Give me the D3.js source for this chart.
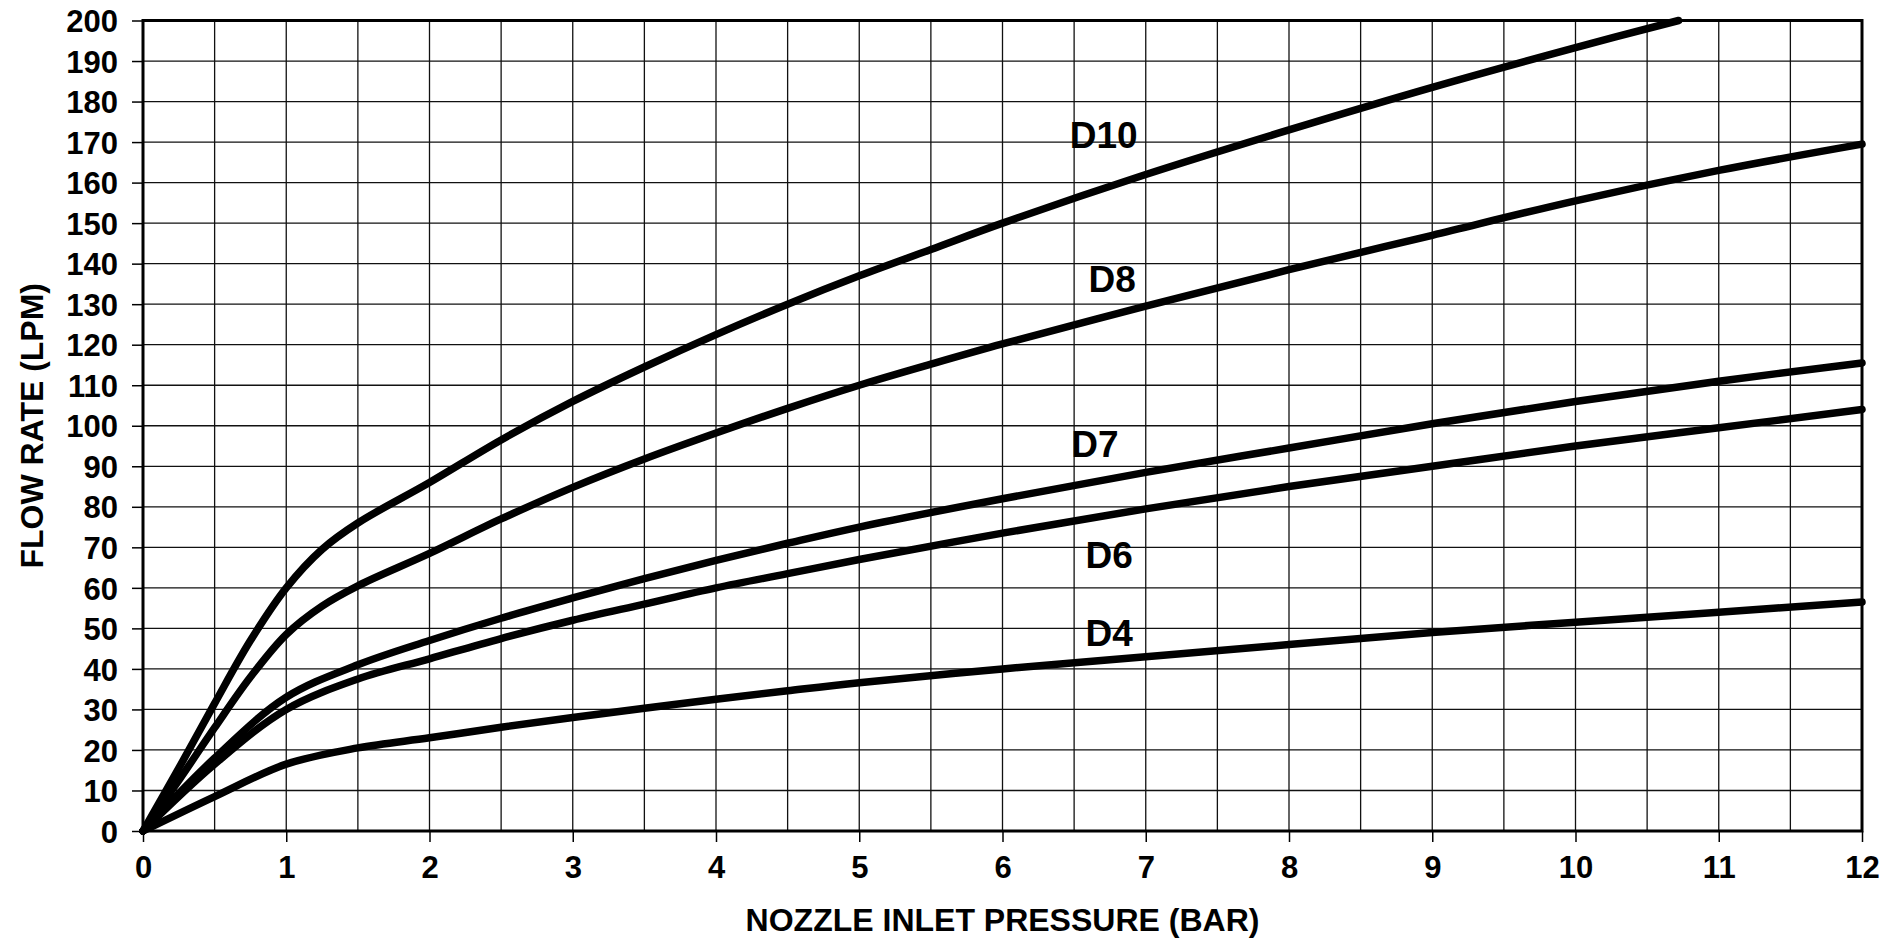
<!DOCTYPE html>
<meta charset="utf-8">
<script src="https://d3js.org/d3.v7.min.js"></script>
<html>
<head>
<style>
body { margin: 0; background: #fff; }
text { font-family: "Liberation Sans", Arial, sans-serif; font-weight: bold; fill: #000; }
</style>
</head>
<body>
<svg id="chart" width="1904" height="948"></svg>
<script>

// nozzle inlet pressure (bar) vs flow rate (lpm)
var d10 = [[0,0],[0.25,15.5],[0.5,31.5],[0.75,47],[1,60],[1.25,69.5],[1.5,76],[2,86],[2.5,96.5],[3,106],
           [3.5,114.5],[4,122.5],[4.5,130],[5,137],[5.5,143.5],[6,150],[7,162],[8,173],[9,183.5],[10,193.3],[10.72,200]];
var d8  = [[0,0],[0.25,12.5],[0.5,25.5],[0.75,38],[1,48.5],[1.25,55.5],[1.5,60.5],[2,68.5],[2.5,77],[3,84.8],
           [3.5,91.8],[4,98.2],[4.5,104.3],[5,110],[5.5,115.2],[6,120.2],[7,129.5],[8,138.5],[9,147],[10,155.5],[11,163],[12,169.5]];
var d7  = [[0,0],[0.5,18],[1,33],[1.5,41],[2,47],[2.5,52.5],[3,57.5],[3.5,62.3],[4,66.8],[4.5,71],[5,75],[6,82],
           [7,88.5],[8,94.5],[9,100.5],[10,106],[11,111],[12,115.5]];
var d6  = [[0,0],[0.5,16.5],[1,30],[1.5,37.5],[2,42.5],[2.5,47.5],[3,52],[3.5,56],[4,60],[4.5,63.5],[5,67],[6,73.5],
           [7,79.5],[8,85],[9,90],[10,95],[11,99.5],[12,104]];
var d4  = [[0,0],[0.5,8.5],[1,16.5],[1.5,20.5],[2,23],[2.5,25.6],[3,28],[3.5,30.3],[4,32.5],[4.5,34.6],[5,36.6],[6,40],
           [7,43],[8,46],[9,49],[10,51.5],[11,54],[12,56.5]];

var seriesNames = ["D10", "D8", "D7", "D6", "D4"];
var seriesData = [d10, d8, d7, d6, d4];
// label anchor (left x, baseline y) in data units
var labelX = [6.47, 6.6, 6.48, 6.58, 6.58];
var labelY = [168.5, 133, 92.2, 64.9, 45.6];

var xTicks = d3.range(0, 13, 1);
var xGrid = d3.range(0, 12.01, 0.5);
var yTicks = d3.range(0, 201, 10);

var svg = d3.select("#chart");
var margin = {left: 143, right: 42, top: 20.5, bottom: 117};
var W = 1904, H = 948;

var x = d3.scaleLinear().domain([0, 12]).range([margin.left, W - margin.right]);
var y = d3.scaleLinear().domain([0, 200]).range([H - margin.bottom, margin.top]);

// grid
svg.append("g").selectAll("line").data(xGrid).enter().append("line")
    .attr("x1", function(d){ return x(d) }).attr("x2", function(d){ return x(d) })
    .attr("y1", y(0)).attr("y2", y(200))
    .attr("stroke", "#111").attr("stroke-width", 1.3);
svg.append("g").selectAll("line").data(yTicks).enter().append("line")
    .attr("x1", x(0)).attr("x2", x(12))
    .attr("y1", function(d){ return y(d) }).attr("y2", function(d){ return y(d) })
    .attr("stroke", "#111").attr("stroke-width", 1.3);

// axes
var xAxis = d3.axisBottom(x).tickValues(xTicks).tickSize(11).tickPadding(14).tickFormat(d3.format("d"));
var gx = svg.append("g").attr("transform", "translate(0," + y(0) + ")").call(xAxis);
var yAxis = d3.axisLeft(y).tickValues(yTicks).tickSize(11).tickPadding(14).tickFormat(d3.format("d"));
var gy = svg.append("g").attr("transform", "translate(" + x(0) + ",0)").call(yAxis);
[gx, gy].forEach(function(g){
  g.select(".domain").remove();
  g.selectAll(".tick line").attr("stroke", "#000").attr("stroke-width", 1.5);
  g.selectAll(".tick text").style("font-size", "31px").attr("fill", "#000");
});
gy.selectAll(".tick text").attr("dy", "0.36em");
gx.selectAll(".tick text").attr("dy", "0.71em");

// frame
svg.append("rect")
    .attr("x", x(0)).attr("y", y(200))
    .attr("width", x(12) - x(0)).attr("height", y(0) - y(200))
    .attr("fill", "none").attr("stroke", "#000").attr("stroke-width", 3);

// curves
var line = d3.line()
    .x(function(d){ return x(d[0]) })
    .y(function(d){ return y(d[1]) })
    .curve(d3.curveCatmullRom.alpha(0.5));

svg.append("g").selectAll("path").data(seriesData).enter().append("path")
    .attr("d", line)
    .attr("fill", "none").attr("stroke", "#000")
    .attr("stroke-width", 7.5).attr("stroke-linecap", "round").attr("stroke-linejoin", "round");

// curve labels
svg.append("g").selectAll("text").data(seriesNames).enter().append("text")
    .attr("x", function(d, i){ return x(labelX[i]) })
    .attr("y", function(d, i){ return y(labelY[i]) })
    .style("font-size", "37px")
    .text(function(d){ return d });

// axis titles
svg.append("text")
    .attr("x", (x(0) + x(12)) / 2).attr("y", 931)
    .attr("text-anchor", "middle")
    .style("font-size", "32px")
    .text("NOZZLE INLET PRESSURE (BAR)");

svg.append("text")
    .attr("transform", "translate(43," + ((y(0) + y(200)) / 2) + ") rotate(-90)")
    .attr("text-anchor", "middle")
    .style("font-size", "32px")
    .text("FLOW RATE (LPM)");

</script>
</body>
</html>
